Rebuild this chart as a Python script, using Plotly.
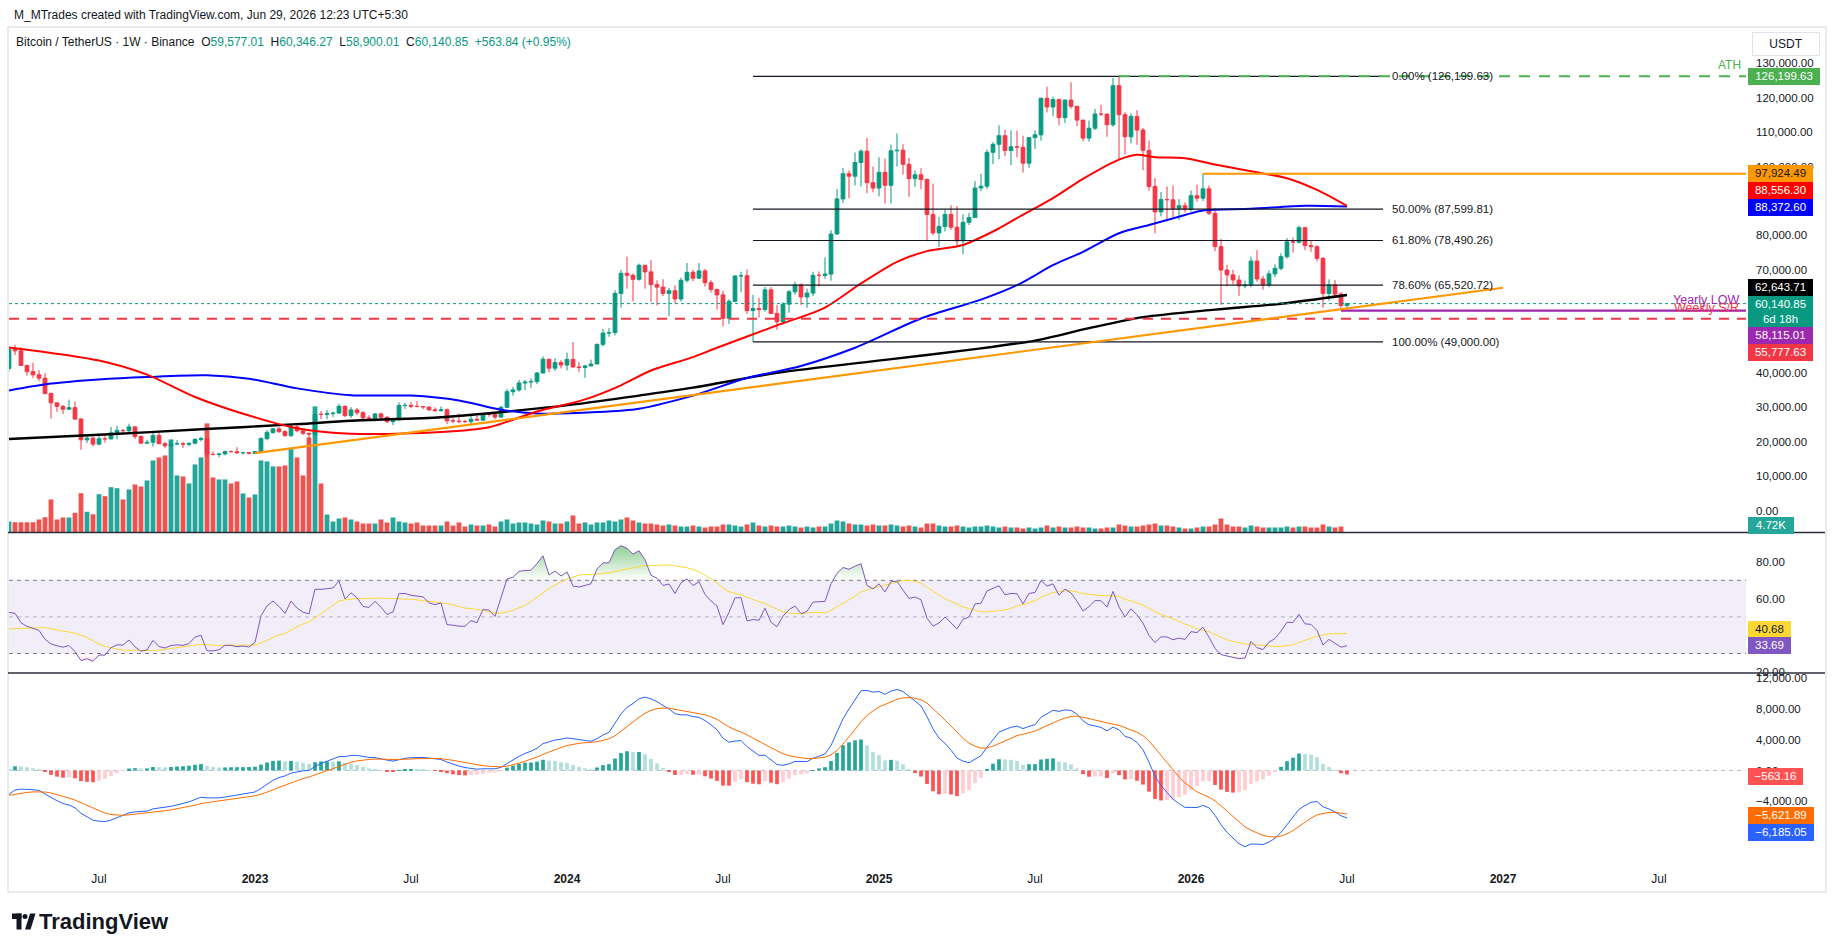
import numpy as np
import pandas as pd
import plotly.graph_objects as go

FONT = "Liberation Sans"
W, H = 1835, 951

# ---------------- data (weekly BTC/USDT, Binance, weeks start Monday) ----------------
first_week = "2022-03-21"
first_open = 41262

close_2022 = [46827, 46407, 42158, 40378, 39450, 38469, 34038, 31302, 30280, 29445, 29900, 26574, 20553, 21027,
              19298, 20847, 20786, 22579, 23296, 23175, 24305, 21516, 19555, 19831, 21826, 19420, 18808, 19312,
              19416, 19262, 19567, 20627, 20924, 16331, 16280, 16457, 17106, 17085, 16757, 16838, 16618]
high_2022 = [47500, 48189, 47444, 42400, 42976, 40797, 39902, 34243, 31328, 30670, 32222, 31700, 26900, 21868,
             21539, 22000, 22400, 24276, 24668, 23647, 25211, 24446, 21819, 20576, 22799, 22673, 19957, 20385,
             20475, 19951, 19700, 21085, 21480, 21053, 17190, 16771, 17424, 17424, 18387, 16960, 16962]
low_2022 = [40467, 45200, 42107, 39200, 38536, 37578, 33713, 26700, 28654, 28019, 29300, 26560, 17622, 19637,
            18626, 18950, 19750, 20750, 20706, 22432, 22665, 20761, 19520, 19540, 18540, 19320, 18125, 18471,
            19000, 18190, 18650, 19257, 20048, 15588, 16000, 15476, 16030, 16880, 16527, 16256, 16333]

close_2023 = [17128, 20878, 22710, 23740, 22930, 21780, 24305, 23165, 22430, 22150, 27960, 27940, 28180, 28330,
              30300, 27590, 29230, 28430, 26920, 26750, 28080, 27110, 25840, 26340, 30530, 30570, 30290, 30230,
              30080, 29280, 29040, 29300, 26090, 26000, 25840, 25830, 26530, 26250, 27990, 27920, 27150, 29990,
              34530, 35040, 37060, 37360, 37450, 39970, 43990, 41370, 43010, 42280]
high_2023 = [17176, 21259, 23371, 23816, 24255, 23339, 25250, 25020, 23880, 22603, 28470, 28868, 29190, 28800,
             31000, 30486, 30036, 29800, 28880, 27700, 28260, 28448, 27400, 26789, 31431, 31282, 31500, 31800,
             30338, 30100, 29990, 30244, 29660, 26838, 28142, 26400, 27488, 27483, 28050, 28600, 27990, 30400,
             35280, 35980, 37980, 37980, 38450, 40250, 44800, 44000, 44300, 43700]
low_2023 = [16521, 16900, 20407, 22292, 22542, 21451, 21352, 22759, 21971, 19549, 21918, 26601, 26508, 27200,
            28170, 27125, 26942, 27680, 25811, 26330, 25871, 26510, 25350, 24800, 26270, 29500, 29700, 29960,
            29500, 28861, 28585, 28700, 25166, 25350, 25333, 25370, 24901, 26000, 26000, 27250, 26530, 26960,
            29880, 33390, 34530, 35000, 35630, 36710, 39970, 40200, 40550, 41300]

close_2024 = [43930, 41730, 41580, 42030, 42580, 48300, 51570, 51730, 63110, 68950, 68390, 67210, 71280, 69360,
              65660, 64940, 63110, 63890, 61480, 66940, 69260, 67530, 69650, 66220, 64260, 62680, 55860, 60800,
              68160, 68250, 58120, 58710, 58430, 64150, 57300, 54840, 59990, 63580, 65600, 62070, 63210, 68370,
              68360, 68730, 80370, 90580, 97900, 97190, 101170, 104460, 95290, 93730, 98310]
high_2024 = [45900, 48970, 43200, 42260, 43860, 48500, 52800, 52990, 64000, 69990, 73777, 68900, 71770, 71300,
             72800, 66900, 67230, 64700, 65500, 67700, 71950, 70000, 71950, 70200, 66950, 64500, 63840, 61400,
             68350, 69400, 70080, 62700, 61800, 65000, 64950, 59800, 60600, 64130, 66500, 66000, 64500, 69400,
             69500, 73600, 81500, 93450, 99590, 98900, 104090, 105000, 108350, 99950, 102700]
low_2024 = [40750, 41500, 40280, 38555, 41900, 42550, 47700, 50500, 50900, 59000, 64500, 60775, 66800, 64500,
            60660, 59600, 62300, 56550, 60190, 60750, 66300, 66650, 67500, 65050, 63400, 58400, 53500, 54260,
            60630, 63450, 57100, 49000, 56100, 57800, 57200, 52550, 54580, 57500, 62700, 59800, 58900, 62300,
            65100, 67400, 66800, 80200, 89400, 90800, 94500, 94150, 92230, 92500, 91300]

close_2025 = [94530, 104560, 104750, 100640, 96470, 97570, 96250, 86060, 80700, 82570, 86080, 82360, 78370, 83760,
              85180, 93750, 94280, 104120, 106450, 108950, 104640, 105730, 105590, 100960, 108390, 109200, 119840,
              117290, 119450, 114200, 119300, 117490, 113490, 108250, 111140, 115270, 115230, 112140, 123500,
              115070, 108650, 114570, 110600, 104700, 94200, 86800, 90400, 90300, 87700, 88600, 87500, 91500]
high_2025 = [102280, 106400, 109600, 106450, 102500, 98800, 99500, 96500, 95000, 85300, 87450, 88750, 88500, 86100,
             86500, 95750, 97900, 104900, 107100, 111980, 110700, 110500, 110400, 108950, 108500, 110500, 120000,
             123200, 120250, 119700, 119500, 124470, 117600, 113500, 113350, 116750, 117900, 115400, 125700,
             126199.63, 115900, 115500, 116400, 111200, 107500, 96600, 92600, 94200, 94500, 90500, 89600, 93000]
low_2025 = [89250, 89250, 100000, 97700, 91200, 94100, 93400, 78250, 80000, 76600, 81100, 81600, 77000, 74500,
            83000, 85150, 92800, 93400, 100700, 102100, 103000, 100400, 102650, 98200, 99600, 105100, 107500,
            115700, 114700, 112000, 112650, 116800, 111700, 107300, 107250, 110600, 114700, 108650, 111550,
            102000, 103500, 106700, 106300, 98900, 93000, 80600, 85500, 84000, 85300, 84500, 86600, 86900]

close_2026 = [90800, 93500, 86400, 76700, 69900, 68500, 67000, 65300, 65600, 72500, 67300, 65600, 68800, 70400,
              73800, 78100, 78000, 82200, 77000, 76700, 73300, 63100, 65600, 62900, 59577.01, 60140.85]
high_2026 = [94700, 97924.49, 94500, 88000, 79000, 71400, 70000, 68400, 66800, 73800, 75700, 68200, 69800, 71600,
             74800, 79200, 79400, 82800, 82500, 78300, 77100, 73700, 67200, 67000, 63500, 60346.27]
low_2026 = [89800, 90000, 85900, 75400, 59800, 65200, 65700, 62400, 64600, 64900, 66500, 64200, 64900, 67800,
            69800, 73200, 75000, 77600, 75700, 75200, 72400, 58950, 61000, 62000, 58115.01, 58900.01]

# weekly volume, thousands of BTC
volume_2022 = [440, 412, 412, 412, 412, 520, 612, 1320, 520, 600, 600, 788, 1572, 828, 732, 1532, 1452, 1812, 1772,
               1320, 1720, 1920, 1840, 2080, 2880, 3000, 3080, 3720, 2280, 2240, 1960, 2720, 3000, 4360, 2200, 2120,
               2120, 1960, 2040, 1560, 1400]
volume_2023 = [1520, 2880, 2840, 2640, 2640, 2680, 3360, 3000, 2280, 3800, 5040, 1960, 720, 440, 560, 600, 520,
               440, 360, 360, 360, 520, 400, 600, 440, 400, 360, 400, 280, 280, 280, 280, 440, 280, 400, 240, 320,
               280, 280, 320, 240, 440, 520, 360, 400, 400, 360, 320, 480, 440, 360, 360]
volume_2024 = [440, 680, 360, 400, 320, 400, 400, 480, 440, 520, 600, 480, 400, 360, 360, 320, 280, 320, 280, 240,
               240, 280, 240, 200, 240, 240, 320, 320, 280, 240, 320, 400, 280, 240, 280, 240, 240, 280, 240, 200,
               240, 200, 240, 240, 360, 480, 440, 360, 320, 320, 280, 320, 280]
volume_2025 = [280, 320, 280, 240, 280, 240, 200, 360, 360, 280, 240, 240, 280, 240, 200, 240, 240, 280, 240, 200,
               240, 200, 200, 160, 200, 160, 200, 280, 200, 240, 200, 200, 240, 200, 200, 160, 160, 200, 200, 320,
               280, 240, 240, 280, 320, 360, 280, 280, 240, 200, 160, 160]
volume_2026 = [200, 240, 240, 320, 560, 320, 240, 240, 200, 280, 240, 200, 200, 200, 200, 240, 200, 240, 240, 200,
               200, 320, 240, 200, 240, 4.72]

# weekly closes before the visible range (Aug 30 2021 .. Mar 14 2022), used only to seed RSI / MACD
warmup_closes = [51750, 46060, 47260, 43200, 48200, 54950, 61530, 60860, 61300, 63270, 65470, 58620, 57270, 49400,
                 50100, 46680, 50800, 47300, 41860, 43100, 36280, 37920, 42410, 42200, 38360, 37700, 38420, 37780,
                 41260]

# moving averages
sma50_dates = ["2022-03-21", "2022-07-04", "2022-08-29", "2022-10-24", "2022-12-26", "2023-02-20", "2023-04-24",
               "2023-08-07", "2023-10-02", "2023-11-27", "2024-01-22", "2024-03-04", "2024-04-08", "2024-05-27",
               "2024-06-24", "2024-09-02", "2024-10-28", "2024-12-09", "2025-01-20", "2025-02-24", "2025-04-07",
               "2025-05-19", "2025-06-09", "2025-07-21", "2025-08-25", "2025-10-06", "2025-10-27", "2025-11-17",
               "2025-12-22", "2026-01-26", "2026-03-09", "2026-04-20", "2026-05-25", "2026-06-29"]
sma50_vals = [47400, 43600, 39500, 33000, 27600, 23900, 22300, 22800, 24200, 28800, 32300, 36400, 40700, 44600,
              47300, 53800, 59000, 66000, 72300, 75400, 77200, 82000, 85000, 90800, 96400, 102000, 103400, 102700,
              102400, 100600, 98600, 96600, 93200, 88556.30]
sma100_dates = ["2022-03-21", "2022-05-09", "2022-07-04", "2022-08-29", "2022-11-07", "2022-12-26", "2023-02-20",
                "2023-04-24", "2023-07-03", "2023-08-28", "2023-10-16", "2023-11-27", "2024-02-05", "2024-03-25",
                "2024-05-27", "2024-07-29", "2024-09-30", "2024-12-02", "2025-02-17", "2025-04-28", "2025-06-09",
                "2025-07-21", "2025-08-25", "2025-10-06", "2025-11-10", "2025-12-22", "2026-01-12", "2026-03-09",
                "2026-05-11", "2026-06-29"]
sma100_vals = [34900, 36900, 38100, 38800, 39300, 38300, 35500, 33500, 33400, 32000, 29300, 28200, 28600, 29600,
               33400, 38500, 42000, 47300, 55800, 61300, 65500, 71300, 75200, 80600, 83000, 85900, 87200, 87700,
               88600, 88372.60]
sma200_dates = ["2022-03-21", "2022-07-04", "2022-10-31", "2023-02-20", "2023-04-24", "2023-08-07", "2023-10-16",
                "2024-01-15", "2024-03-25", "2024-05-27", "2024-09-02", "2025-01-06", "2025-04-21", "2025-06-30",
                "2025-09-01", "2025-11-03", "2026-01-26", "2026-04-13", "2026-06-29"]
sma200_vals = [20800, 22000, 23600, 25100, 26100, 27100, 28600, 31000, 33400, 35700, 40000, 43800, 46900, 49400,
               53000, 56200, 58400, 60100, 62643.71]

# drawings
fib_start, fib_end = "2024-08-05", "2026-08-10"
fib_levels = [126199.63, 87599.81, 78490.26, 65520.72, 49000.00]
fib_labels = ["0.00% (126,199.63)", "50.00% (87,599.81)", "61.80% (78,490.26)", "78.60% (65,520.72)",
              "100.00% (49,000.00)"]
ath_price, ath_date = 126199.63, "2025-10-06"
res_price, res_date = 97924.49, "2026-01-12"
yearly_low, yearly_low_date = 58115.01, "2026-06-22"
weekly_sr = 55777.63
last_price = 60140.85
trend_dates = ["2023-01-02", "2026-12-28"]
trend_prices = [16700, 64750]

tick_dates = ["2022-07-04", "2023-01-02", "2023-07-03", "2024-01-01", "2024-07-01", "2024-12-30", "2025-06-30",
              "2025-12-29", "2026-06-29", "2026-12-28", "2027-06-28"]
tick_text = ["Jul", "<b>2023</b>", "Jul", "<b>2024</b>", "Jul", "<b>2025</b>", "Jul", "<b>2026</b>", "Jul",
             "<b>2027</b>", "Jul"]

# ---------------- derived series ----------------
closes = close_2022 + close_2023 + close_2024 + close_2025 + close_2026
highs = high_2022 + high_2023 + high_2024 + high_2025 + high_2026
lows = low_2022 + low_2023 + low_2024 + low_2025 + low_2026
volume = volume_2022 + volume_2023 + volume_2024 + volume_2025 + volume_2026
n = len(closes)
weeks = pd.date_range(first_week, periods=n, freq="7D")
opens = [first_open] + closes[:-1]
up = [c >= o for o, c in zip(opens, closes)]

allc = np.array(warmup_closes + closes, dtype=float)
d = np.diff(allc)
g = np.clip(d, 0, None)
lo = np.clip(-d, 0, None)
ag = np.full(len(d), np.nan)
al = np.full(len(d), np.nan)
ag[13] = g[:14].mean()
al[13] = lo[:14].mean()
for i in range(14, len(d)):
    ag[i] = (ag[i - 1] * 13 + g[i]) / 14
    al[i] = (al[i - 1] * 13 + lo[i]) / 14
rsi_all = np.concatenate([[np.nan], 100 - 100 / (1 + ag / al)])
rsi_ma_all = pd.Series(rsi_all).rolling(14).mean().to_numpy()


def ema(x, span):
    a = 2 / (span + 1)
    out = np.empty(len(x))
    out[0] = x[0]
    for i in range(1, len(x)):
        out[i] = a * x[i] + (1 - a) * out[i - 1]
    return out


macd_all = ema(allc, 12) - ema(allc, 26)
sig_all = ema(macd_all, 9)
k = len(warmup_closes)
rsi = rsi_all[k:]
rsi_ma = rsi_ma_all[k:]
macd = macd_all[k:]
signal = sig_all[k:]
hist = macd - signal

hist_colors = []
for i, h in enumerate(hist):
    prev = hist[i - 1] if i > 0 else h
    if h >= 0:
        hist_colors.append("#26A69A" if h > prev else "#B2DFDB")
    else:
        hist_colors.append("#FF5252" if h < prev else "#FFCDD2")

# ---------------- layout geometry ----------------
def pxx(x):
    return x / W


def pyy(y):
    return 1 - y / H


XDOM = [pxx(9), pxx(1746)]
MAIN = [pyy(532.5), pyy(32)]
RSIP = [pyy(673), pyy(532.5)]
MACDP = [pyy(866), pyy(673)]
x_start = pd.Timestamp("2022-03-21")
x_end = pd.Timestamp("2022-05-02") + pd.Timedelta(days=283.5 * 7)
WEEK_MS = 7 * 86400000

UPC, DNC = "#089981", "#F23645"

fig = go.Figure()

# volume (base axis of main pane)
fig.add_trace(go.Bar(x=weeks, y=volume, xaxis="x", yaxis="y", width=0.8 * WEEK_MS,
                     marker=dict(color=["#26A69A" if u else "#EF5350" for u in up], line=dict(width=0)),
                     hoverinfo="skip", showlegend=False))

# candles: wicks
for flag, col in ((True, UPC), (False, DNC)):
    xs, ys = [], []
    for t, hi, lw, u in zip(weeks, highs, lows, up):
        if u == flag:
            xs += [t, t, None]
            ys += [lw, hi, None]
    fig.add_trace(go.Scatter(x=xs, y=ys, mode="lines", line=dict(color=col, width=1), xaxis="x", yaxis="y4",
                             hoverinfo="skip", showlegend=False))
# candles: bodies
body_base = [min(o, c) for o, c in zip(opens, closes)]
body_h = [abs(c - o) for o, c in zip(opens, closes)]
ccol = [UPC if u else DNC for u in up]
fig.add_trace(go.Bar(x=weeks, y=body_h, base=body_base, xaxis="x", yaxis="y4", width=0.62 * WEEK_MS,
                     marker=dict(color=ccol, line=dict(color=ccol, width=1)), hoverinfo="skip", showlegend=False))

# moving averages
for dts, vals, col, wd in ((sma200_dates, sma200_vals, "#000000", 2.4),
                           (sma100_dates, sma100_vals, "#0000FF", 2),
                           (sma50_dates, sma50_vals, "#FF0000", 2)):
    fig.add_trace(go.Scatter(x=pd.to_datetime(dts), y=vals, mode="lines", xaxis="x", yaxis="y4",
                             line=dict(color=col, width=wd, shape="spline", smoothing=0.8),
                             hoverinfo="skip", showlegend=False))

# RSI pane
fig.add_trace(go.Scatter(x=weeks, y=[70] * n, mode="lines", line=dict(width=0), xaxis="x", yaxis="y2",
                         hoverinfo="skip", showlegend=False))
fig.add_trace(go.Scatter(x=weeks, y=np.maximum(rsi, 70), mode="lines", line=dict(width=0), fill="tonexty",
                         fillgradient=dict(type="vertical", start=70, stop=90,
                                           colorscale=[[0, "rgba(76,175,80,0)"], [1, "rgba(76,175,80,0.65)"]]),
                         xaxis="x", yaxis="y2", hoverinfo="skip", showlegend=False))
fig.add_trace(go.Scatter(x=weeks, y=[30] * n, mode="lines", line=dict(width=0), xaxis="x", yaxis="y2",
                         hoverinfo="skip", showlegend=False))
fig.add_trace(go.Scatter(x=weeks, y=np.minimum(rsi, 30), mode="lines", line=dict(width=0), fill="tonexty",
                         fillgradient=dict(type="vertical", start=15, stop=30,
                                           colorscale=[[0, "rgba(242,54,69,0.6)"], [1, "rgba(242,54,69,0)"]]),
                         xaxis="x", yaxis="y2", hoverinfo="skip", showlegend=False))
fig.add_trace(go.Scatter(x=weeks, y=rsi_ma, mode="lines", line=dict(color="#FDD835", width=1), xaxis="x",
                         yaxis="y2", hoverinfo="skip", showlegend=False))
fig.add_trace(go.Scatter(x=weeks, y=rsi, mode="lines", line=dict(color="#7E57C2", width=1), xaxis="x",
                         yaxis="y2", hoverinfo="skip", showlegend=False))

# MACD pane
fig.add_trace(go.Bar(x=weeks, y=hist, xaxis="x", yaxis="y3", width=0.62 * WEEK_MS,
                     marker=dict(color=hist_colors, line=dict(width=0)), hoverinfo="skip", showlegend=False))
fig.add_trace(go.Scatter(x=weeks, y=macd, mode="lines", line=dict(color="#2962FF", width=1), xaxis="x",
                         yaxis="y3", hoverinfo="skip", showlegend=False))
fig.add_trace(go.Scatter(x=weeks, y=signal, mode="lines", line=dict(color="#FF6D00", width=1), xaxis="x",
                         yaxis="y3", hoverinfo="skip", showlegend=False))

# ---------------- shapes ----------------
shapes = []


def hline(y, x0, x1, color, width=1.0, dash="solid", yref="y4", layer="above"):
    shapes.append(dict(type="line", xref="x", yref=yref, x0=x0, x1=x1, y0=y, y1=y, layer=layer,
                       line=dict(color=color, width=width, dash=dash)))


# RSI band and levels
shapes.append(dict(type="rect", xref="x", yref="y2", x0=x_start, x1=x_end, y0=30, y1=70,
                   fillcolor="rgba(126,87,194,0.1)", line=dict(width=0), layer="below"))
hline(70, x_start, x_end, "#787B86", 1, "4px,4px", yref="y2", layer="below")
hline(50, x_start, x_end, "rgba(120,123,134,0.5)", 1, "4px,4px", yref="y2", layer="below")
hline(30, x_start, x_end, "#787B86", 1, "4px,4px", yref="y2", layer="below")
# MACD zero
hline(0, x_start, x_end, "rgba(120,123,134,0.5)", 1, "4px,4px", yref="y3", layer="below")

# price drawings
hline(last_price, x_start, x_end, "#089981", 1, "dot")
hline(weekly_sr, x_start, x_end, "#F23645", 2, "10px,8px")
for lvl in fib_levels:
    hline(lvl, fib_start, fib_end, "#131722", 1.2)
hline(ath_price, ath_date, x_end, "#4CAF50", 2, "11px,9px")
hline(res_price, res_date, x_end, "#FF9800", 2)
hline(yearly_low, yearly_low_date, x_end, "#9C27B0", 2.2)
shapes.append(dict(type="line", xref="x", yref="y4", x0=trend_dates[0], x1=trend_dates[1],
                   y0=trend_prices[0], y1=trend_prices[1], line=dict(color="#FF9800", width=2.2)))

# frame and pane separators
shapes.append(dict(type="rect", xref="paper", yref="paper", x0=pxx(8), x1=pxx(1826), y0=pyy(892), y1=pyy(27),
                   line=dict(color="#E9EBEF", width=2), layer="below"))
for ysep in (532.5, 673):
    shapes.append(dict(type="line", xref="paper", yref="paper", x0=pxx(8), x1=pxx(1825), y0=pyy(ysep),
                       y1=pyy(ysep), line=dict(color="#2A2E39", width=1.3)))

# TradingView logo mark
LOGO = "#131722"
shapes.append(dict(type="rect", xref="paper", yref="paper", x0=pxx(12), x1=pxx(21.5), y0=pyy(919), y1=pyy(913.5),
                   fillcolor=LOGO, line=dict(width=0)))
shapes.append(dict(type="rect", xref="paper", yref="paper", x0=pxx(16.5), x1=pxx(21.5), y0=pyy(929.5),
                   y1=pyy(913.5), fillcolor=LOGO, line=dict(width=0)))
shapes.append(dict(type="circle", xref="paper", yref="paper", x0=pxx(22.5), x1=pxx(27.5), y0=pyy(919),
                   y1=pyy(914), fillcolor=LOGO, line=dict(width=0)))
shapes.append(dict(type="path", xref="paper", yref="paper",
                   path=f"M {pxx(25)} {pyy(929.5)} L {pxx(30)} {pyy(913.5)} L {pxx(35.5)} {pyy(913.5)} "
                        f"L {pxx(30.5)} {pyy(929.5)} Z", fillcolor=LOGO, line=dict(width=0)))

# ---------------- annotations ----------------
ann = []


def badge(text, yc, bg, fg="white", w=65, h=16.5, x=1748):
    ann.append(dict(xref="paper", yref="paper", x=pxx(x), y=pyy(yc), xanchor="left", yanchor="middle",
                    text=text, showarrow=False, bgcolor=bg, width=w, height=h, borderpad=0, borderwidth=0,
                    align="center", valign="middle", font=dict(family=FONT, size=11.5, color=fg)))


badge("126,199.63", 77, "#4CAF50", w=72)
badge("97,924.49", 173.3, "#FF9800", fg="#131722")
badge("88,556.30", 190.7, "#FF0000")
badge("88,372.60", 207.7, "#0000FF")
badge("62,643.71", 287.3, "#000000")
badge("60,140.85<br>6d 18h", 311.4, "#089981", h=30.5)
badge("58,115.01", 335.3, "#9C27B0")
badge("55,777.63", 352.3, "#F23645")
badge("4.72K", 525, "#26A69A", w=46)
badge("40.68", 629, "#FDD835", fg="#131722", w=43)
badge("33.69", 645.7, "#7E57C2", w=43)
badge("\u2212563.16", 776.3, "#FF5252", w=55)
badge("\u22125,621.89", 815.3, "#FF6D00", w=66)
badge("\u22126,185.05", 832.3, "#2962FF", w=66)

# USDT unit box
ann.append(dict(xref="paper", yref="paper", x=pxx(1786), y=pyy(44), xanchor="center", yanchor="middle",
                text="USDT", showarrow=False, width=66, height=22, bordercolor="#E0E3EB", borderwidth=1,
                borderpad=0, bgcolor="white", font=dict(family=FONT, size=12, color="#131722")))

# fib labels
for lvl, lab in zip(fib_levels, fib_labels):
    ann.append(dict(xref="x", yref="y4", x=fib_end, y=lvl, xanchor="left", yanchor="middle", xshift=7,
                    text=lab, showarrow=False, font=dict(family=FONT, size=11.5, color="#131722")))

ann.append(dict(xref="paper", yref="y4", x=pxx(1729), y=ath_price, yshift=11, xanchor="center",
                yanchor="middle", text="ATH", showarrow=False, font=dict(family=FONT, size=12, color="#4CAF50")))
ann.append(dict(xref="paper", yref="paper", x=pxx(1741), y=pyy(299.5), xanchor="right", yanchor="middle",
                text="Yearly LOW", showarrow=False, font=dict(family=FONT, size=12.5, color="#9C27B0")))
ann.append(dict(xref="paper", yref="paper", x=pxx(1741), y=pyy(307.5), xanchor="right", yanchor="middle",
                text="Weekly S/R", showarrow=False, font=dict(family=FONT, size=12.5, color="#F23645")))

# header texts
ann.append(dict(xref="paper", yref="paper", x=pxx(12), y=pyy(15), xanchor="left", yanchor="middle",
                text="M_MTrades created with TradingView.com, Jun 29, 2026 12:23 UTC+5:30", showarrow=False,
                font=dict(family=FONT, size=12, color="#131722")))
G = '<span style="color:#089981">'
legend = ("Bitcoin / TetherUS \u00b7 1W \u00b7 Binance&nbsp;&nbsp;"
          f"O{G}59,577.01</span>&nbsp;&nbsp;H{G}60,346.27</span>&nbsp;&nbsp;L{G}58,900.01</span>&nbsp;&nbsp;"
          f"C{G}60,140.85</span>&nbsp;&nbsp;{G}+563.84 (+0.95%)</span>")
ann.append(dict(xref="paper", yref="paper", x=pxx(14), y=pyy(42), xanchor="left", yanchor="middle",
                text=legend, showarrow=False, font=dict(family=FONT, size=12, color="#131722")))
ann.append(dict(xref="paper", yref="paper", x=pxx(37), y=pyy(921.5), xanchor="left", yanchor="middle",
                text="<b>TradingView</b>", showarrow=False, font=dict(family=FONT, size=22, color="#131722")))

# ---------------- axes ----------------
AX = dict(showgrid=False, zeroline=False, showline=False, fixedrange=True, automargin=False)
TF = dict(family=FONT, size=11.5, color="#131722")
fig.update_layout(
    width=W, height=H, margin=dict(l=0, r=0, t=0, b=0, pad=0, autoexpand=False),
    paper_bgcolor="white", plot_bgcolor="white",
    showlegend=False, barmode="overlay", hovermode=False,
    xaxis=dict(**AX, domain=XDOM, anchor="y3", type="date", range=[x_start, x_end], tickvals=tick_dates,
               ticktext=tick_text, ticks="", tickfont=dict(family=FONT, size=12, color="#131722"),
               ticklabelstandoff=4),
    yaxis=dict(**AX, domain=MAIN, anchor="x", range=[0, 20000], visible=False),
    yaxis4=dict(**AX, overlaying="y", anchor="x", side="right", range=[-6395, 139099],
                tickvals=list(range(0, 130001, 10000)), tickformat=",.2f", ticks="", tickfont=TF,
                ticklabelstandoff=9),
    yaxis2=dict(**AX, domain=RSIP, anchor="x", side="right", range=[19.34, 96.12], tickvals=[20, 40, 60, 80],
                tickformat=".2f", ticks="", tickfont=TF, ticklabelstandoff=9),
    yaxis3=dict(**AX, domain=MACDP, anchor="x", side="right", range=[-12400, 12660],
                tickvals=[-8000, -4000, 0, 4000, 8000, 12000], tickformat=",.2f", ticks="", tickfont=TF,
                ticklabelstandoff=9),
    shapes=shapes, annotations=ann,
)

fig.write_html("out.html")
